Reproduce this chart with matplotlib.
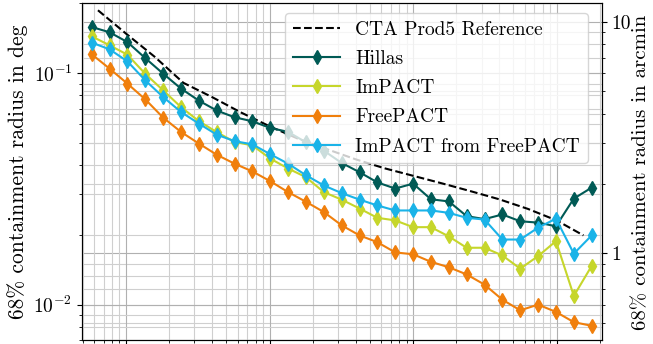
import matplotlib
matplotlib.use("Agg")
import matplotlib.pyplot as plt
from matplotlib.ticker import FormatStrFormatter, NullFormatter

plt.rcParams["font.family"] = "cmr10"
plt.rcParams["mathtext.fontset"] = "cm"
plt.rcParams["axes.formatter.use_mathtext"] = True
plt.rcParams["font.size"] = 14

# energy bin centres in TeV
energy = [0.0577, 0.0768, 0.1023, 0.1362, 0.1814, 0.2415, 0.3217, 0.4283,
          0.5704, 0.7597, 1.012, 1.347, 1.794, 2.389, 3.181, 4.236, 5.641,
          7.512, 10.0, 13.32, 17.74, 23.62, 31.46, 41.9, 55.79, 74.3, 98.95,
          131.8, 175.5]

hillas = [0.158, 0.150, 0.136, 0.116, 0.0994, 0.0857, 0.0760, 0.0689, 0.0644,
          0.0619, 0.0579, 0.0557, 0.0502, 0.0462, 0.0409, 0.0373, 0.0337,
          0.0317, 0.0333, 0.0285, 0.0279, 0.0241, 0.0234, 0.0245, 0.0229,
          0.0226, 0.0218, 0.0287, 0.0320]
impact = [0.144, 0.1318, 0.120, 0.0992, 0.0842, 0.0713, 0.0620, 0.0556, 0.0504,
          0.0487, 0.0427, 0.0387, 0.0355, 0.0306, 0.0284, 0.0260, 0.0237,
          0.0231, 0.0216, 0.0216, 0.0197, 0.0176, 0.0176, 0.0163, 0.0143,
          0.0162, 0.0188, 0.0109, 0.0147]
freepact = [0.1205, 0.1045, 0.090, 0.0770, 0.0642, 0.0557, 0.0496, 0.0444,
            0.0406, 0.0376, 0.0341, 0.0306, 0.0278, 0.0251, 0.0220, 0.0199,
            0.0186, 0.0168, 0.0165, 0.0153, 0.0145, 0.0135, 0.0122, 0.0105,
            0.00945, 0.0100, 0.0093, 0.0084, 0.0081]
impact_fp = [0.1353, 0.1266, 0.1123, 0.0930, 0.0788, 0.0679, 0.0605, 0.0542,
             0.0508, 0.0492, 0.0446, 0.0406, 0.0362, 0.0327, 0.0303, 0.0284,
             0.0268, 0.0255, 0.0255, 0.0255, 0.0249, 0.0237, 0.0233, 0.0191,
             0.0191, 0.0215, 0.0235, 0.0166, 0.0199]

# CTA prod5 angular resolution curve
ref_energy = [0.0638, 0.1, 0.1585, 0.2512, 0.3981, 0.631, 1.0, 1.585, 2.512,
              3.981, 6.31, 10.0, 15.85, 25.12, 39.81, 63.1, 100.0, 153.8]
ref_res = [0.1866, 0.148, 0.1175, 0.0907, 0.0787, 0.0676, 0.0589, 0.0520,
           0.0469, 0.0424, 0.0388, 0.0360, 0.0334, 0.0309, 0.0285, 0.0259,
           0.0231, 0.0199]

fig = plt.figure(figsize=(6.53, 3.44), dpi=100)
ax = fig.add_axes([0.1256, 0.0102, 0.7958, 0.9802])
ax2 = ax.twinx()

ax.plot(ref_energy, ref_res, "k--", lw=1.5, label="CTA Prod5 Reference")
ax.plot(energy, hillas, marker="d", ms=7.5, lw=1.5, color="#005a55", label="Hillas")
ax.plot(energy, impact, marker="d", ms=7.5, lw=1.5, color="#c6d62b", label="ImPACT")
ax.plot(energy, freepact, marker="d", ms=7.5, lw=1.5, color="#f07f0c", label="FreePACT")
ax.plot(energy, impact_fp, marker="d", ms=7.5, lw=1.5, color="#1ab3e8",
        label="ImPACT from FreePACT")

ax.set_xscale("log")
ax.set_yscale("log")
ax.set_xlim(0.0494, 206)
ax.set_ylim(0.007, 0.2)
ax.grid(True, which="major", color="#b0b0b0")
ax.grid(True, which="minor", color="#cfcfcf")
ax.tick_params(axis="x", which="both", labelbottom=False)
ax.set_ylabel("68% containment radius in deg", fontsize=15.5)

ax2.set_yscale("log")
lo, hi = ax.get_ylim()
ax2.set_ylim(lo * 60, hi * 60)
ax2.yaxis.set_major_formatter(FormatStrFormatter("%g"))
ax2.yaxis.set_minor_formatter(NullFormatter())
ax2.grid(True, which="major", color="#b0b0b0")
ax2.grid(True, which="minor", color="#cfcfcf")
ax2.set_ylabel("68% containment radius in arcmin", fontsize=15, labelpad=1)

# keep the data above the arcmin grid
ax.set_zorder(ax2.get_zorder() + 1)
ax.patch.set_visible(False)

ax.legend(loc="upper right", bbox_to_anchor=(0.9923, 1.0), fontsize=14,
          handlelength=2.4, labelspacing=0.58)

fig.savefig("out.png", dpi=100)
